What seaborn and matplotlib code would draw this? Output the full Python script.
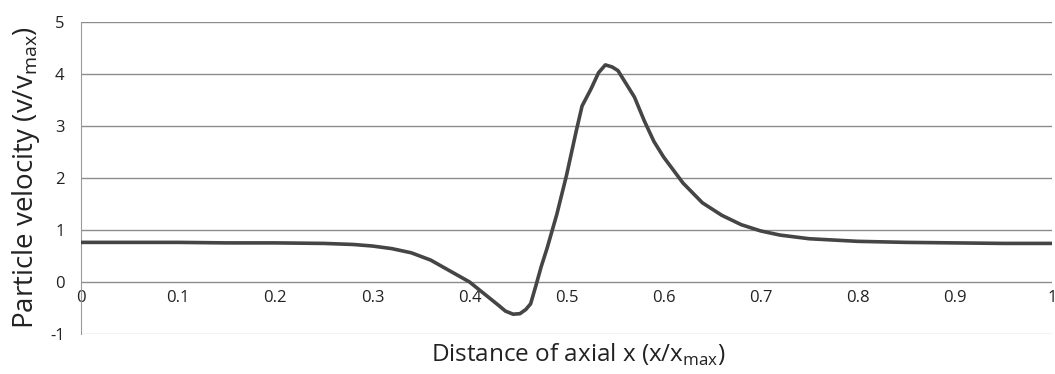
import numpy as np
import pandas as pd
import seaborn as sns
import matplotlib
matplotlib.use("Agg")
import matplotlib.pyplot as plt

x_pos = [0, 0.05, 0.1, 0.15, 0.2, 0.25, 0.28, 0.3, 0.32, 0.34, 0.36, 0.38, 0.40,
         0.42, 0.43, 0.437, 0.445, 0.452, 0.458, 0.463, 0.468, 0.474, 0.48, 0.49,
         0.50, 0.51, 0.516, 0.525, 0.533, 0.54, 0.547, 0.553, 0.56, 0.57, 0.58,
         0.59, 0.60, 0.61, 0.62, 0.64, 0.66, 0.68, 0.70, 0.72, 0.75, 0.8, 0.85,
         0.9, 0.95, 1.0]
velocity = [0.76, 0.76, 0.76, 0.75, 0.75, 0.74, 0.72, 0.69, 0.64, 0.56, 0.42, 0.21, 0.0,
            -0.3, -0.45, -0.56, -0.62, -0.61, -0.53, -0.42, -0.1, 0.3, 0.65, 1.3,
            2.05, 2.9, 3.38, 3.7, 4.02, 4.17, 4.13, 4.06, 3.85, 3.55, 3.1,
            2.7, 2.4, 2.15, 1.9, 1.52, 1.28, 1.1, 0.98, 0.9, 0.83, 0.78, 0.76,
            0.75, 0.74, 0.74]
x_ticks = [0, 0.1, 0.2, 0.3, 0.4, 0.5, 0.6, 0.7, 0.8, 0.9, 1]
x_tick_labels = ["0", "0.1", "0.2", "0.3", "0.4", "0.5", "0.6", "0.7", "0.8", "0.9", "1"]
y_ticks = [-1, 0, 1, 2, 3, 4, 5]

sns.set_style("white")
plt.rcParams['font.family'] = ['Open Sans', 'DejaVu Sans']

df = pd.DataFrame({"x": x_pos, "v": velocity})

fig = plt.figure(figsize=(10.55, 3.74), dpi=100)
ax = fig.add_axes([0.077, 0.107, 0.92, 0.835])

for yv in y_ticks:
    c = "#c4c4c4" if yv == -1 else "#8c8c8c"
    ax.axhline(yv, color=c, lw=1.0, zorder=1)

sns.lineplot(data=df, x="x", y="v", ax=ax, color="#454545", lw=2.6, zorder=3)

ax.spines['bottom'].set_position(('data', 0))
ax.spines['bottom'].set_visible(False)
ax.spines['top'].set_visible(False)
ax.spines['right'].set_visible(False)
ax.spines['left'].set_color("#9a9a9a")

ax.set_xlim(0, 1)
ax.set_ylim(-1, 5)
ax.set_yticks(y_ticks)
ax.set_yticklabels([str(v) for v in y_ticks], fontsize=12, color="#222222")
ax.set_xticks(x_ticks)
ax.set_xticklabels(x_tick_labels, fontsize=12, color="#222222")
ax.tick_params(axis='x', length=0, pad=6)
ax.tick_params(axis='y', length=0, pad=12)

ax.set_ylabel("Particle velocity (v/v$_{\\mathregular{max}}$)", fontsize=20, color="#222222", labelpad=6)
ax.set_xlabel("")
fig.text(0.548, 0.05, "Distance of axial x (x/x$_{\\mathregular{max}}$)", fontsize=17.5,
         color="#222222", ha="center", va="center")

fig.savefig("out.png", dpi=100)
